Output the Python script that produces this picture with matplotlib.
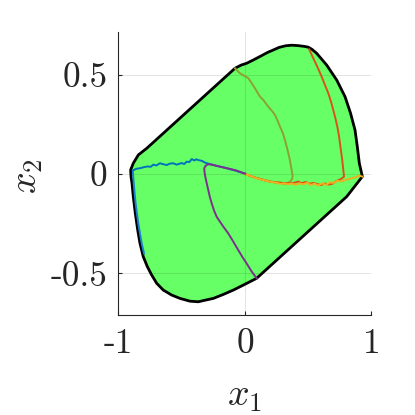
import matplotlib
matplotlib.use("Agg")
import matplotlib.pyplot as plt
from matplotlib.patches import Polygon

plt.rcParams['mathtext.fontset'] = 'cm'
plt.rcParams['axes.unicode_minus'] = False

# ---- data ----
region_x = [-0.904, -0.883, -0.843, -0.777, -0.079, -0.030, 0.013, 0.070, 0.130, 0.180,
            0.224, 0.270, 0.320, 0.369, 0.420, 0.470, 0.501, 0.530, 0.567, 0.646, 0.725,
            0.791, 0.835, 0.870, 0.888, 0.904, 0.928, 0.804, 0.092, -0.013, -0.092,
            -0.171, -0.250, -0.329, -0.369, -0.435, -0.514, -0.580, -0.646, -0.698,
            -0.738, -0.772, -0.804, -0.830, -0.848, -0.867, -0.883, -0.893, -0.901]
region_y = [0.020, 0.054, 0.096, 0.129, 0.532, 0.548, 0.557, 0.575, 0.595, 0.612,
            0.624, 0.637, 0.645, 0.648, 0.646, 0.642, 0.638, 0.627, 0.607, 0.548, 0.473,
            0.389, 0.305, 0.221, 0.138, 0.054, -0.013, -0.114, -0.525, -0.559, -0.584,
            -0.606, -0.626, -0.637, -0.643, -0.640, -0.626, -0.609, -0.584, -0.550,
            -0.508, -0.466, -0.416, -0.349, -0.282, -0.198, -0.114, -0.047, -0.013]

blue_x = [-0.886, -0.860, -0.830, -0.800, -0.770, -0.745, -0.725, -0.700, -0.672, -0.645,
          -0.619, -0.595, -0.567, -0.540, -0.500, -0.480, -0.461, -0.440, -0.421, -0.400,
          -0.385, -0.369, -0.340, -0.316, -0.290, -0.251, -0.225, -0.198, -0.160, -0.119,
          -0.085, -0.053, -0.025, 0.0]
blue_y = [0.018, 0.026, 0.029, 0.034, 0.038, 0.036, 0.047, 0.043, 0.054, 0.049,
          0.045, 0.052, 0.054, 0.047, 0.055, 0.050, 0.062, 0.060, 0.075, 0.068,
          0.074, 0.070, 0.066, 0.057, 0.052, 0.045, 0.041, 0.037, 0.032, 0.024,
          0.019, 0.012, 0.007, 0.003]

lblue_x = [-0.798, -0.816, -0.830, -0.843, -0.854, -0.864, -0.872, -0.879, -0.885, -0.887]
lblue_y = [-0.400, -0.350, -0.300, -0.250, -0.200, -0.150, -0.100, -0.050, 0.000, 0.015]

purple_x = [0.092, 0.050, 0.013, -0.020, -0.053, -0.090, -0.132, -0.171, -0.200, -0.224,
            -0.245, -0.263, -0.278, -0.290, -0.303, -0.314, -0.320, -0.322, -0.313, -0.303,
            -0.290, -0.260, -0.230, -0.198, -0.160, -0.120, -0.090, -0.066, -0.040, -0.015, 0.0]
purple_y = [-0.525, -0.488, -0.450, -0.418, -0.383, -0.343, -0.299, -0.265, -0.238, -0.215,
            -0.183, -0.148, -0.115, -0.081, -0.045, -0.013, 0.010, 0.029, 0.040, 0.045,
            0.049, 0.047, 0.042, 0.037, 0.031, 0.026, 0.021, 0.017, 0.011, 0.005, 0.001]

olive_x = [-0.079, -0.040, 0.026, 0.055, 0.079, 0.119, 0.145, 0.184, 0.210, 0.237,
           0.262, 0.277, 0.300, 0.316, 0.330, 0.343, 0.355, 0.364, 0.372, 0.377, 0.368,
           0.356, 0.336, 0.316, 0.280, 0.240, 0.198, 0.150, 0.092, 0.050, 0.0]
olive_y = [0.532, 0.507, 0.482, 0.455, 0.431, 0.389, 0.372, 0.339, 0.320, 0.297,
           0.262, 0.238, 0.205, 0.171, 0.137, 0.104, 0.070, 0.037, 0.010, -0.013, -0.030,
           -0.039, -0.046, -0.050, -0.043, -0.041, -0.037, -0.029, -0.020, -0.011, 0.0]

red_x = [0.508, 0.530, 0.553, 0.580, 0.606, 0.632, 0.659, 0.680, 0.698, 0.715, 0.730,
         0.742, 0.751, 0.760, 0.769, 0.776, 0.783, 0.760, 0.720, 0.690, 0.660, 0.630,
         0.600, 0.570, 0.540, 0.510, 0.480, 0.450, 0.420, 0.390, 0.350, 0.300, 0.250,
         0.200, 0.150, 0.100, 0.050, 0.0]
red_y = [0.627, 0.596, 0.565, 0.528, 0.490, 0.448, 0.406, 0.364, 0.322, 0.280, 0.238,
         0.196, 0.154, 0.112, 0.070, 0.028, -0.013, -0.025, -0.036, -0.050, -0.053, -0.048,
         -0.056, -0.050, -0.045, -0.049, -0.040, -0.046, -0.038, -0.044, -0.047, -0.045, -0.043,
         -0.039, -0.031, -0.022, -0.012, 0.0]

orange_x = [0.928, 0.900, 0.880, 0.850, 0.820, 0.790, 0.760, 0.730, 0.700, 0.670, 0.640,
            0.610, 0.580, 0.550, 0.520, 0.490, 0.460, 0.430, 0.400, 0.370, 0.340, 0.310,
            0.280, 0.250, 0.220, 0.190, 0.160, 0.130, 0.100, 0.070, 0.040, 0.015, 0.0]
orange_y = [-0.013, -0.008, -0.016, -0.020, -0.026, -0.030, -0.038, -0.034, -0.045, -0.042,
            -0.055, -0.047, -0.058, -0.049, -0.055, -0.044, -0.052, -0.047, -0.055, -0.048,
            -0.052, -0.047, -0.050, -0.044, -0.041, -0.038, -0.032, -0.028, -0.023, -0.016,
            -0.009, -0.004, 0.0]

x_ticks = [-1, 0, 1]
x_ticklabels = ['-1', '0', '1']
y_ticks = [-0.5, 0, 0.5]
y_ticklabels = ['-0.5', '0', '0.5']
xlim = (-1.0, 1.0)
ylim = (-0.708, 0.713)

# ---- figure ----
fig = plt.figure(figsize=(4.15, 4.15), dpi=100)
ax = fig.add_axes([0.2855, 0.2417, 0.6096, 0.6805])

ax.add_patch(Polygon(list(zip(region_x, region_y)), closed=True,
                     facecolor='#66ff66', edgecolor='black', linewidth=2.0,
                     joinstyle='round', zorder=1))

lw = 1.4
ax.plot(lblue_x, lblue_y, color='#1a80d0', lw=lw, zorder=3)
ax.plot(blue_x, blue_y, color='#0072bd', lw=lw, zorder=3)
ax.plot(olive_x, olive_y, color='#8fa030', lw=lw, zorder=3)
ax.plot(red_x, red_y, color='#d95319', lw=lw, zorder=3)
ax.plot(orange_x, orange_y, color='#edb120', lw=lw, zorder=3)
ax.plot(purple_x, purple_y, color='#7e2f8e', lw=lw, zorder=3)

ax.set_xlim(*xlim)
ax.set_ylim(*ylim)
ax.set_xticks(x_ticks)
ax.set_xticklabels(x_ticklabels)
ax.set_yticks(y_ticks)
ax.set_yticklabels(y_ticklabels)

ax.grid(True, color='#262626', alpha=0.13, linewidth=0.7)
ax.set_axisbelow(False)
for gl in ax.get_xgridlines() + ax.get_ygridlines():
    gl.set_zorder(2)

for s in ['top', 'right']:
    ax.spines[s].set_visible(False)
for s in ['left', 'bottom']:
    ax.spines[s].set_color('#262626')
    ax.spines[s].set_linewidth(0.8)
    ax.spines[s].set_zorder(4)

ax.tick_params(direction='in', length=3, width=0.8, color='#262626',
               labelsize=25.5, labelcolor='#262626')
ax.tick_params(axis='x', pad=10)
ax.tick_params(axis='y', pad=8)
for lab in ax.get_xticklabels() + ax.get_yticklabels():
    lab.set_fontfamily('cmr10')

fig.text(0.590, 0.0446, r'$x_1$', fontsize=27.5, color='#262626', ha='center', va='center')
fig.text(0.065, 0.576, r'$x_2$', fontsize=27.5, color='#262626', ha='center', va='center',
         rotation=90)

fig.savefig('out.png', dpi=100)
